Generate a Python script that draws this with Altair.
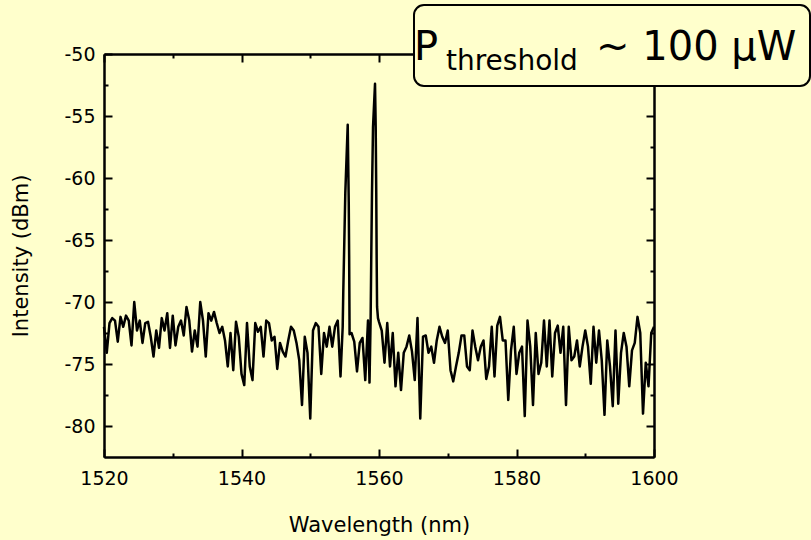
import altair as alt
import pandas as pd

# ---------------- data ----------------
noise_start = 1520.0
noise_step = 0.4
noise_db = [
    -72.0, -74.1, -71.7, -71.3, -71.5, -73.2, -71.2, -72.0, -71.1, -71.5,
    -73.5, -70.0, -72.3, -71.5, -73.3, -71.7, -71.6, -72.8, -74.4, -72.3,
    -73.7, -71.3, -72.3, -70.9, -73.7, -71.1, -73.5, -72.0, -71.5, -72.7,
    -70.4, -71.5, -74.0, -72.3, -73.6, -70.0, -71.5, -74.4, -70.9, -71.5,
    -70.8, -71.7, -72.5, -72.0, -73.1, -75.2, -72.5, -75.5, -71.6, -72.8,
    -75.8, -76.7, -71.7, -75.2, -76.3, -71.7, -72.4, -72.0, -74.4, -71.5,
    -71.7, -73.1, -72.8, -75.4, -73.3, -74.0, -74.4, -73.1, -72.0, -72.3,
    -73.3, -74.7, -78.3, -72.8, -74.1, -79.4, -72.3, -71.7, -72.0, -75.8,
    -72.5, -73.6, -72.0, -73.6, -72.0, -71.5, -76.0, None, None, None,
    -72.5, -73.2, -75.6, -73.3, -72.9, -76.3, -71.5, None, None, None,
    -71.6, -72.3, -74.9, -71.7, -75.2, -72.5, -76.8, -74.1, -77.1, -74.1,
    -73.6, -72.7, -74.0, -76.3, -71.3, -79.4, -72.8, -72.7, -74.1, -73.6,
    -74.9, -73.1, -72.0, -72.8, -73.3, -72.3, -75.5, -76.4, -75.2, -74.1,
    -72.7, -72.7, -75.2, -75.5, -72.3, -73.6, -74.7, -73.6, -73.1, -76.2,
    -75.2, -72.0, -76.0, -71.9, -71.2, -73.1, -73.1, -77.9, -73.9, -72.0,
    -75.8, -74.1, -73.6, -79.2, -71.5, -73.6, -78.3, -72.5, -75.8, -74.9,
    -71.5, -75.2, -71.5, -76.0, -72.5, -71.9, -74.1, -72.0, -78.3, -72.0,
    -74.7, -74.4, -73.1, -75.2, -73.6, -72.3, -73.6, -76.6, -72.0, -74.9,
    -72.3, -74.7, -79.1, -73.1, -75.2, -78.4, -72.3, -78.2, -74.1, -72.5,
    -73.6, -76.8, -73.9, -73.3, -71.2, -72.5, -79.0, -74.9, -76.8, -72.5,
    -72.0,
]
peak_wavelength = [1554.72, 1554.80, 1554.90, 1555.10, 1555.45, 1555.60, 1555.66, 1555.72,
                   1558.62, 1558.78, 1558.87, 1558.98, 1559.13, 1559.42, 1559.52, 1559.60,
                   1559.66, 1559.72, 1559.85]
peak_db = [-72.0, -69.3, -66.6, -61.2, -55.7, -62.0, -66.5, -72.6,
           -76.5, -71.5, -66.6, -61.2, -55.9, -52.4, -55.9, -61.2,
           -66.6, -70.4, -71.3]

x_major = [1520, 1540, 1560, 1580, 1600]
x_minor = [1530, 1550, 1570, 1590]
y_major = [-80, -75, -70, -65, -60, -55, -50]
y_minor = [-77.5, -72.5, -67.5, -62.5, -57.5, -52.5]
annotation_parts = ["P", "threshold", "~ 100 μW"]

# ---------------- build table ----------------
rows = [(round(noise_start + i * noise_step, 2), v) for i, v in enumerate(noise_db) if v is not None]
rows += list(zip(peak_wavelength, peak_db))
df = pd.DataFrame(rows, columns=["wavelength", "intensity"]).sort_values("wavelength")

FONT = "DejaVu Sans"
BG = "#FFFFCC"

x_scale = alt.Scale(domain=[1520, 1600], nice=False, zero=False)
y_scale = alt.Scale(domain=[-82.5, -50], nice=False, zero=False)


def make_axis(orient, values, size, labels=False, title=None, label_pad=0, title_pad=0):
    kw = dict(orient=orient, values=values, tickSize=alt.ExprRef(str(-size)), grid=False,
              labels=labels, domainColor="black", domainWidth=2, tickColor="black",
              tickWidth=2, ticks=True)
    if labels:
        kw.update(labelExpr="'' + datum.value", labelFont=FONT, labelFontSize=19,
                  labelColor="black", labelPadding=label_pad, labelFlush=False,
                  labelOverlap=False)
    if title:
        kw.update(title=title, titleFont=FONT, titleFontSize=21, titleFontWeight="normal",
                  titleColor="black", titlePadding=title_pad)
    else:
        kw["title"] = None
    return alt.Axis(**kw)


def axis_layer(xa, ya, visible=False):
    mark = alt.Chart(df).mark_line(color="black", strokeWidth=2.5, strokeJoin="round",
                                   strokeOpacity=1 if visible else 0)
    return mark.encode(
        x=alt.X("wavelength:Q", scale=x_scale, axis=xa),
        y=alt.Y("intensity:Q", scale=y_scale, axis=ya),
    )


main = axis_layer(
    make_axis("bottom", x_major, 8, labels=True, title="Wavelength (nm)", label_pad=20, title_pad=26),
    make_axis("left", y_major, 8, labels=True, title="Intensity (dBm)", label_pad=17, title_pad=32),
    visible=True,
)
mirror = axis_layer(make_axis("top", x_major, 8), make_axis("right", y_major, 8))
minor_a = axis_layer(make_axis("bottom", x_minor, 4), make_axis("left", y_minor, 4))
minor_b = axis_layer(make_axis("top", x_minor, 4), make_axis("right", y_minor, 4))

one = pd.DataFrame({"k": [0]})
box = alt.Chart(one).mark_rect(cornerRadius=10, fill=BG, stroke="black", strokeWidth=2).encode(
    x=alt.value(310), x2=alt.value(706), y=alt.value(-49), y2=alt.value(32)
)
t_p = alt.Chart(one).mark_text(text=annotation_parts[0], font=FONT, fontSize=40, align="left",
                               baseline="alphabetic", color="black").encode(
    x=alt.value(310), y=alt.value(6))
t_sub = alt.Chart(one).mark_text(text=annotation_parts[1], font=FONT, fontSize=28, align="left",
                                 baseline="alphabetic", color="black").encode(
    x=alt.value(342), y=alt.value(16))
t_rest = alt.Chart(one).mark_text(text=annotation_parts[2], font=FONT, fontSize=40, align="left",
                                  baseline="alphabetic", color="black").encode(
    x=alt.value(492), y=alt.value(6))

chart = alt.layer(main, mirror, minor_a, minor_b, box, t_p, t_sub, t_rest).resolve_axis(
    x="independent", y="independent"
).properties(
    width=550, height=403,
    autosize=alt.AutoSizeParams(type="none"),
    padding={"left": 104, "top": 54, "right": 157, "bottom": 83},
    background=BG,
).configure_view(strokeWidth=0)

chart.save("out.html", embed_options={"renderer": "svg", "actions": False})
